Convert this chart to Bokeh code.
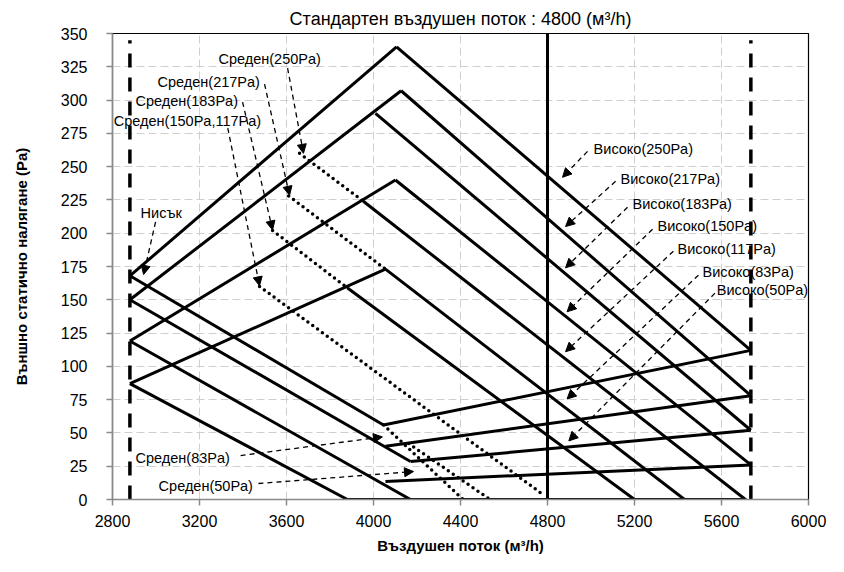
from bokeh.plotting import figure
from bokeh.models import Label, Arrow, NormalHead, FixedTicker, Range1d
from bokeh.embed import file_html
from bokeh.resources import INLINE

# ---------------- data ----------------
x_ticks = [2800, 3200, 3600, 4000, 4400, 4800, 5200, 5600, 6000]
y_ticks = [0, 25, 50, 75, 100, 125, 150, 175, 200, 225, 250, 275, 300, 325, 350]

flow_min = 2880          # left dashed limit (m3/h)
flow_max = 5735          # right dashed limit (m3/h)
flow_std = 4800          # standard air flow

# upper-limit lines: from left limit vertex up to peak
upper_x0 = [2880, 2880, 2880, 2880]
upper_y0 = [168, 150, 119, 87]
upper_x1 = [4106, 4127, 4101, 4055]
upper_y1 = [340, 307, 240, 173]

# high fan curves ("Високо")
high_names = ["Високо(250Pa)", "Високо(217Pa)", "Високо(183Pa)", "Високо(150Pa)",
              "Високо(117Pa)", "Високо(83Pa)", "Високо(50Pa)"]
high_x0 = [4106, 4127, 4009, 4101, 3953, 4055, 3879]
high_y0 = [340, 307, 290, 240, 224, 173, 159]
high_x1 = [5735, 5735, 5735, 5735, 5710, 5430, 5200]
high_y1 = [112, 78, 52, 26, 0, 0, 0]

# lower-limit lines from the left vertices
lower_x0 = [2880, 2880, 2880, 2880]
lower_y0 = [168, 150, 119, 87]
lower_x1 = [4046, 4170, 4170, 3880]
lower_y1 = [56, 28.5, 0, 0]

# bottom (minimum) lines to the right limit
bottom_x0 = [4046, 4055, 4170, 4055, 3880]
bottom_y0 = [56, 40, 28.5, 13.5, 0]
bottom_x1 = [5735, 5735, 5735, 5735, 5715]
bottom_y1 = [112, 78, 52, 26, 0]

# medium curves ("Среден"), dotted parts
mid_x0 = [3660, 3610, 3536, 3476, 4046, 4162]
mid_y0 = [260, 228, 202, 160, 56, 42]
mid_x1 = [3953, 4055, 3879, 4785, 4412, 4536]
mid_y1 = [224, 173, 159, 3, 0, 0]

# annotation texts
high_label_x = [5012, 5136, 5191, 5306, 5398, 5513, 5578]
high_label_y = [263, 240.5, 222, 205.5, 188, 171, 157.5]
high_tail_x = [4984, 5113, 5168, 5283, 5379, 5494, 5570]
high_tail_y = [261.5, 239, 219.5, 203, 186.5, 168.5, 155]
high_tip_x = [4869, 4883, 4883, 4890, 4883, 4890, 4898]
high_tip_y = [242, 205, 174, 141, 111, 75.5, 44]

mid_names = ["Среден(250Pa)", "Среден(217Pa)", "Среден(183Pa)", "Среден(150Pa,117Pa)",
             "Нисък", "Среден(83Pa)", "Среден(50Pa)"]
mid_label_x = [3287, 3007, 2906, 2806, 2929, 2906, 3012]
mid_label_y = [330.5, 313.5, 299, 284.5, 215, 31.5, 10.5]
mid_tail_x = [3605, 3499, 3398, 3330, 2998, 3389, 3471]
mid_tail_y = [324, 312, 298.5, 279, 208.5, 33, 12]
mid_tip_x = [3678, 3614, 3536, 3476, 2943, 4041, 4184]
mid_tip_y = [260, 228.5, 202.5, 160.5, 169, 47, 21]

title_text = "Стандартен въздушен поток : 4800 (м³/h)"
x_title = "Въздушен поток (м³/h)"
y_title = "Външно статично налягане (Pa)"

FONT = "Liberation Sans"

# ---------------- figure ----------------
p = figure(width=828, height=556,
           x_range=Range1d(2800, 6000), y_range=Range1d(0, 350),
           output_backend="svg", toolbar_location=None,
           min_border_left=112, min_border_right=20,
           min_border_top=33, min_border_bottom=56)
p.outline_line_color = "black"
p.outline_line_width = 1.2
p.background_fill_color = "white"
p.border_fill_color = "white"

p.title.text = title_text
p.title.align = "center"
p.title.standoff = 10
p.title.text_font = FONT
p.title.text_font_size = "18px"
p.title.text_font_style = "normal"
p.title.text_color = "black"

for ax in (p.xaxis[0], p.yaxis[0]):
    ax.axis_line_color = "#8a8a8a"
    ax.axis_line_width = 1.5
    ax.major_tick_line_color = "#8a8a8a"
    ax.major_tick_line_width = 1.5
    ax.major_tick_out = 6
    ax.major_tick_in = 0
    ax.minor_tick_line_color = None
    ax.major_label_text_font = FONT
    ax.major_label_text_font_size = "16px"
    ax.major_label_text_color = "black"
    ax.axis_label_text_font = FONT
    ax.axis_label_text_font_size = "15px"
    ax.axis_label_text_font_style = "bold"
    ax.axis_label_text_color = "black"

p.xaxis.ticker = FixedTicker(ticks=x_ticks)
p.yaxis.ticker = FixedTicker(ticks=y_ticks)
p.xaxis.axis_label = x_title
p.yaxis.axis_label = y_title
p.xaxis.major_label_standoff = 9
p.yaxis.major_label_standoff = 19
p.xaxis.axis_label_standoff = 7
p.yaxis.axis_label_standoff = 28

for g in (p.xgrid[0], p.ygrid[0]):
    g.grid_line_color = "#cfcfcf"
    g.grid_line_dash = "8 4"
    g.grid_line_width = 1

# limits
p.segment(x0=[flow_min, flow_max], y0=[0, 0], x1=[flow_min, flow_max], y1=[345, 345],
          line_color="black", line_width=3.5, line_dash="14 10")
p.segment(x0=[flow_std], y0=[0], x1=[flow_std], y1=[350], line_color="black", line_width=3)

# curves
LW = 3
p.segment(x0=upper_x0, y0=upper_y0, x1=upper_x1, y1=upper_y1, line_color="black", line_width=LW)
p.segment(x0=high_x0, y0=high_y0, x1=high_x1, y1=high_y1, line_color="black", line_width=LW)
p.segment(x0=lower_x0, y0=lower_y0, x1=lower_x1, y1=lower_y1, line_color="black", line_width=LW)
p.segment(x0=bottom_x0, y0=bottom_y0, x1=bottom_x1, y1=bottom_y1, line_color="black", line_width=LW)
p.segment(x0=mid_x0, y0=mid_y0, x1=mid_x1, y1=mid_y1, line_color="black", line_width=3.5,
          line_dash="0 6", line_cap="round")

# annotations
def add_text(x, y, t):
    p.add_layout(Label(x=x, y=y, text=t, text_font=FONT, text_font_size="14.5px",
                       text_color="black", text_baseline="middle", text_align="left"))

def add_arrow(x0, y0, x1, y1):
    p.add_layout(Arrow(end=NormalHead(size=9, fill_color="black", line_color="black", line_width=1),
                       x_start=x0, y_start=y0, x_end=x1, y_end=y1,
                       line_color="black", line_width=1.3, line_dash="5 4"))

for i, t in enumerate(high_names):
    add_text(high_label_x[i], high_label_y[i], t)
    add_arrow(high_tail_x[i], high_tail_y[i], high_tip_x[i], high_tip_y[i])

for i, t in enumerate(mid_names):
    add_text(mid_label_x[i], mid_label_y[i], t)
    add_arrow(mid_tail_x[i], mid_tail_y[i], mid_tip_x[i], mid_tip_y[i])

open("out.html", "w").write(file_html(p, INLINE))
